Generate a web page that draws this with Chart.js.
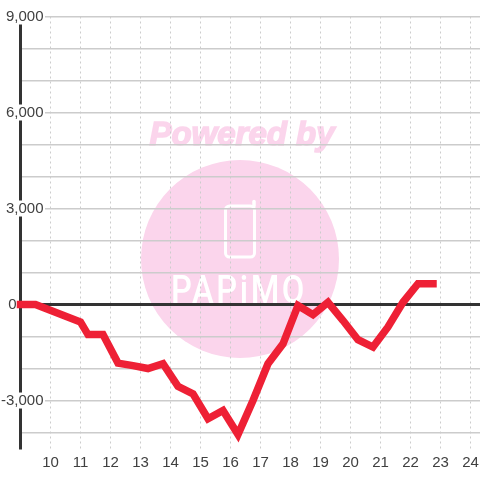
<!DOCTYPE html>
<html>
<head>
<meta charset="utf-8">
<style>
html, body { margin: 0; padding: 0; background: #fff; }
canvas { display: block; }
</style>
<script src="https://cdn.jsdelivr.net/npm/chart.js@4"></script>
</head>
<body>
<canvas id="chart" width="480" height="480"></canvas>
<script>
const hours = [9, 9.5, 11, 11.25, 11.75, 12.25, 12.75, 13.25, 13.75, 14.25, 14.75, 15.25, 15.75, 16.25, 16.75, 17.25, 17.75, 18.25, 18.75, 19.25, 19.75, 20.25, 20.75, 21.25, 21.75, 22.25, 22.75];
const values = [0, 0, -550, -940, -940, -1830, -1910, -2000, -1850, -2560, -2790, -3570, -3310, -4060, -3000, -1850, -1230, -30, -320, 70, -500, -1100, -1330, -700, 70, 650, 650];
const yTicks = [9000, 8000, 7000, 6000, 5000, 4000, 3000, 2000, 1000, 0, -1000, -2000, -3000, -4000];
const yLabelValues = [9000, 6000, 3000, 0, -3000];
const yLabelTexts = ['9,000', '6,000', '3,000', '0', '-3,000'];

const textColor = '#404040';
const gridColor = '#cccccc';
const axisColor = '#333333';
const lineColor = '#ee2035';
const markPink = '#fbd5ec';
const labelFont = { family: '"Liberation Sans", Arial, sans-serif', size: 15 };

// Watermark sits under the grid
const watermark = {
    id: 'watermark',
    beforeDraw(chart) {
        const ctx = chart.ctx;
        ctx.save();
        ctx.fillStyle = markPink;
        ctx.beginPath();
        ctx.arc(240, 259, 99, 0, Math.PI * 2);
        ctx.fill();

        ctx.font = 'italic bold 33px "Liberation Sans", Arial, sans-serif';
        ctx.textAlign = 'center';
        ctx.textBaseline = 'alphabetic';
        ctx.strokeStyle = markPink;
        ctx.lineWidth = 1.5;
        ctx.strokeText('Powered by', 242, 145);
        ctx.fillText('Powered by', 242, 145);

        // Phone icon
        ctx.strokeStyle = '#fff';
        ctx.lineWidth = 3;
        ctx.lineCap = 'round';
        ctx.beginPath();
        ctx.roundRect(225.5, 206, 29, 51, 4);
        ctx.stroke();
        ctx.lineWidth = 3.5;
        ctx.beginPath();
        ctx.moveTo(254, 206);
        ctx.lineTo(254, 201.5);
        ctx.stroke();

        ctx.fillStyle = '#fff';
        ctx.translate(239, 303);
        ctx.scale(0.84, 1);
        ctx.font = '500 39px Roboto, sans-serif';
        ctx.letterSpacing = '3px';
        ctx.fillText('PAPiMO', 0, 0);
        ctx.restore();
    }
};

// Tick labels straddle the axis line, Chart.js would clip them to the axis box
const yLabels = {
    id: 'yLabels',
    beforeDatasetsDraw(chart) {
        const ctx = chart.ctx;
        const scale = chart.scales.y;
        ctx.save();
        ctx.font = `${labelFont.size}px ${labelFont.family}`;
        ctx.textBaseline = 'middle';
        ctx.textAlign = 'right';
        yLabelValues.forEach((v, i) => {
            const y = scale.getPixelForValue(v);
            if (v === 0) {
                ctx.fillStyle = textColor;
                ctx.fillText(yLabelTexts[i], 16.5, y);
                return;
            }
            ctx.fillStyle = '#ffffff';
            ctx.fillRect(0, y - 8, 45, 16);
            ctx.fillStyle = textColor;
            ctx.fillText(yLabelTexts[i], 43.5, y);
        });
        ctx.restore();
    }
};

new Chart(document.getElementById('chart'), {
    type: 'line',
    data: {
        datasets: [{
            data: hours.map((h, i) => ({ x: h, y: values[i] })),
            borderColor: lineColor,
            borderWidth: 7.5,
            borderCapStyle: 'square',
            borderJoinStyle: 'miter',
            pointRadius: 0,
            tension: 0,
            fill: false,
            clip: false
        }]
    },
    options: {
        responsive: false,
        animation: false,
        layout: { padding: { top: 16.5, left: 0, right: 0, bottom: 0 } },
        plugins: { legend: { display: false }, tooltip: { enabled: false } },
        scales: {
            x: {
                type: 'linear',
                min: 9,
                max: 24.317,
                afterFit(scale) {
                    scale.height = 31;
                    scale.paddingLeft = 0;
                    scale.paddingRight = 0;
                },
                border: { display: false, dash: [2, 3] },
                grid: {
                    drawTicks: false,
                    lineWidth: 1,
                    color: (c) => (c.tick && c.tick.value === 9 ? 'transparent' : gridColor)
                },
                ticks: {
                    stepSize: 1,
                    includeBounds: false,
                    autoSkip: false,
                    maxRotation: 0,
                    padding: 5,
                    color: textColor,
                    font: labelFont,
                    callback: (v) => (v === 9 ? '' : String(v))
                }
            },
            y: {
                min: -4515,
                max: 9000,
                afterBuildTicks(scale) { scale.ticks = yTicks.map((v) => ({ value: v })); },
                afterFit(scale) {
                    scale.width = 20.5;
                    scale.paddingTop = 0;
                    scale.paddingBottom = 0;
                },
                border: { display: true, color: axisColor, width: 3 },
                grid: {
                    drawTicks: false,
                    color: (c) => (c.tick && c.tick.value === 0 ? axisColor : gridColor),
                    lineWidth: (c) => (c.tick && c.tick.value === 0 ? 3 : 1.5)
                },
                ticks: { display: false }
            }
        }
    },
    plugins: [watermark, yLabels]
});
</script>
</body>
</html>
